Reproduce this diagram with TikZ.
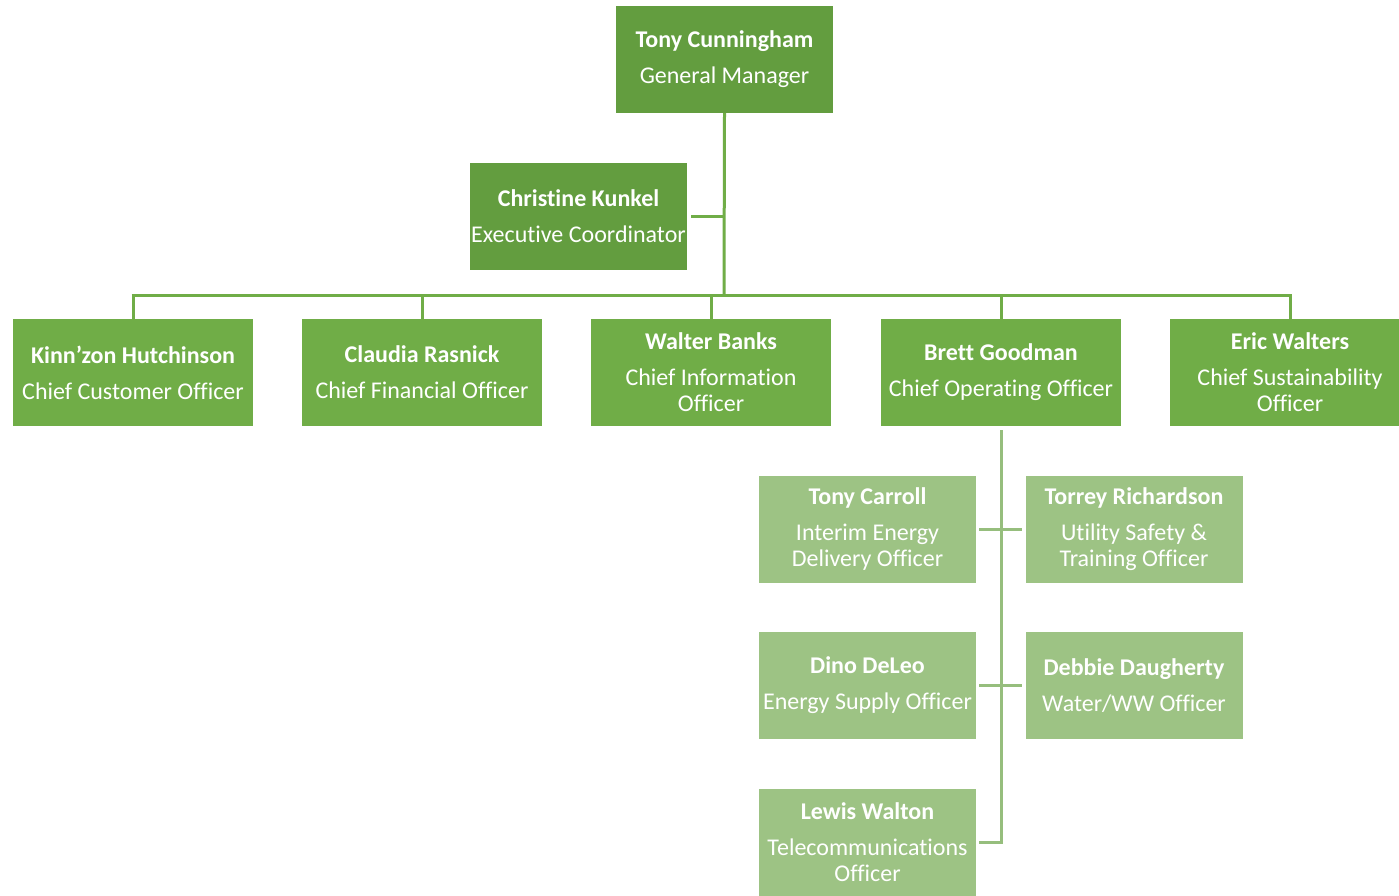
\documentclass[tikz,border=0pt]{standalone}
\usepackage{fontspec}
\setmainfont{Carlito}[Ligatures={NoCommon}]
\definecolor{gmgreen}{RGB}{99,157,63}
\definecolor{midgreen}{RGB}{112,173,71}
\definecolor{litegreen}{RGB}{157,195,132}
\definecolor{liteline}{RGB}{150,190,125}
\begin{document}
\begin{tikzpicture}[x=1pt,y=-1pt,
  box/.style={rectangle, inner sep=0pt, text=white, align=center,
    font=\fontsize{24}{26}\selectfont, minimum height=107pt},
  top/.style={box, fill=gmgreen, minimum width=217pt},
  mid/.style={box, fill=midgreen, minimum width=240pt},
  low/.style={box, fill=litegreen, minimum width=217pt, minimum height=107pt},
  link/.style={draw=midgreen, line width=3pt},
  sublink/.style={draw=liteline, line width=3pt}]
\useasboundingbox (0,0) rectangle (1399,895);
\fill[white] (0,0) rectangle (1399,895);

\coordinate (bus) at (724,295);
\coordinate (cooend) at (1001,842);

\node[top] (gm) at (724.5,59.5) {\textbf{Tony Cunningham}\\[10pt]General Manager};
\node[top] (ck) at (578.5,216) {\textbf{Christine Kunkel}\\[10pt]Executive Coordinator};

\node[mid] (kh) at (133,372.5) {\textbf{Kinn’zon Hutchinson}\\[10pt]Chief Customer Officer};
\node[mid] (cr) at (422,372.5) {\textbf{Claudia Rasnick}\\[10pt]Chief Financial Officer};
\node[mid] (wb) at (711,372.5) {\textbf{Walter Banks}\\[10pt]Chief Information\\Officer};
\node[mid] (bg) at (1001,372.5) {\textbf{Brett Goodman}\\[10pt]Chief Operating Officer};
\node[mid] (ew) at (1290,372.5) {\textbf{Eric Walters}\\[10pt]Chief Sustainability\\Officer};

\node[low] (tc) at (867.5,529) {\textbf{Tony Carroll}\\[10pt]Interim Energy\\Delivery Officer};
\node[low] (tr) at (1134,529) {\textbf{Torrey Richardson}\\[10pt]Utility Safety \&\\Training Officer};
\node[low] (dd) at (867.5,685.5) {\textbf{Dino DeLeo}\\[10pt]Energy Supply Officer};
\node[low] (db) at (1134,685.5) {\textbf{Debbie Daugherty}\\[10pt]Water/WW Officer};
\node[low] (lw) at (867.5,842) {\textbf{Lewis Walton}\\[10pt]Telecommunications\\Officer};

\draw[link] (gm.south) -- (bus);
\draw[link, shorten <=4pt] (ck.east) -- (ck.east -| bus);
\draw[link] ([xshift=-1.5pt]kh.north |- bus) -- ([xshift=1.5pt]ew.north |- bus);
\foreach \n in {kh,cr,wb,bg,ew}{
  \draw[link] (\n.north) -- (\n.north |- bus);
}
\draw[sublink, shorten <=4pt] (bg.south) -- (cooend) -- ([xshift=3pt]lw.east);
\draw[sublink, shorten <=3pt, shorten >=3pt] (tc.east) -- (tr.west);
\draw[sublink, shorten <=3pt, shorten >=3pt] (dd.east) -- (db.west);
\end{tikzpicture}
\end{document}
